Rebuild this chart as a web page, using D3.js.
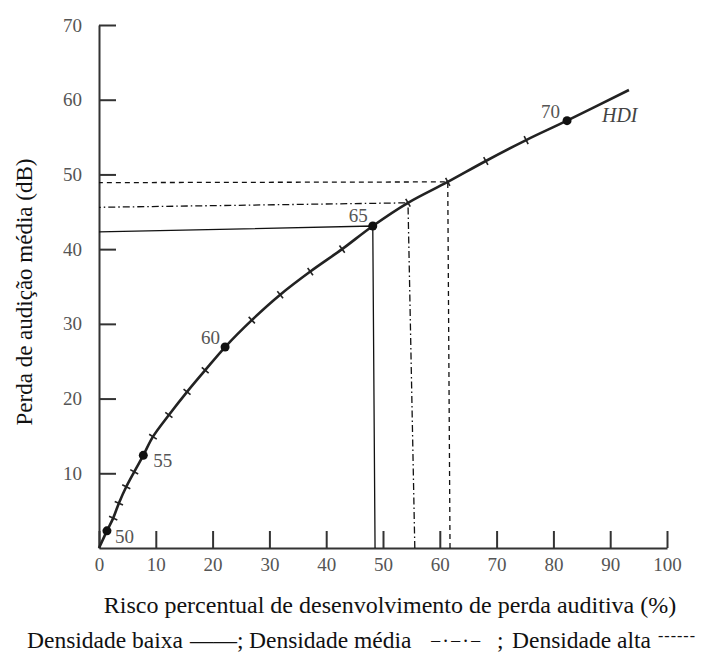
<!DOCTYPE html>
<html>
<head>
<meta charset="utf-8">
<script src="https://cdn.jsdelivr.net/npm/d3@7"></script>
<style>
    body { margin: 0; background: #fff; }
    text { font-family: "Liberation Serif", "Times New Roman", serif; }
</style>
</head>
<body>
<div id="chart"></div>
<script>

// HDI curve: noise level (dB) -> risk (%) and mean hearing loss (dB)
var hdiLevels = [50, 51, 52, 53, 54, 55, 56, 57, 58, 59, 60, 61, 62, 63, 64, 65, 66, 67, 68, 69, 70];
var hdiRisk = [1.4, 2.5, 3.5, 4.8, 6.2, 7.8, 9.5, 12.3, 15.5, 18.7, 22.2, 26.9, 31.9, 37.2, 42.8, 48.2, 54.4, 61.4, 68.1, 75.2, 82.4];
var hdiLoss = [2.3, 4.0, 6.0, 8.2, 10.2, 12.4, 14.9, 17.8, 20.9, 23.8, 26.9, 30.5, 33.9, 37.0, 40.0, 43.1, 46.2, 49.0, 51.8, 54.6, 57.2];
var curveStart = [0, 0];
var curveEnd = [93.3, 61.3];
var labelledLevels = [50, 55, 60, 65, 70];

// reading lines for the three densities
var densityNames = ["baixa", "média", "alta"];
var densityRisk = [48.2, 54.4, 61.4];
var densityLoss = [43.1, 46.2, 49.0];
var densityRiskAtAxis = [48.6, 55.6, 61.8];
var densityLossAtAxis = [42.3, 45.6, 48.9];

// tick labels
var xTicks = [0, 10, 20, 30, 40, 50, 60, 70, 80, 90, 100];
var yTicks = [10, 20, 30, 40, 50, 60, 70];


var width = 706, height = 653;
var serif = "'Liberation Serif', 'Times New Roman', serif";

var svg = d3.select("#chart").append("svg")
    .attr("width", width)
    .attr("height", height)
    .style("font-family", serif);

svg.append("rect").attr("width", width).attr("height", height).attr("fill", "#fff");

var x = d3.scaleLinear().domain([0, 100]).range([99, 667]);
var y = d3.scaleLinear().domain([0, 70]).range([548, 25]);

// axes (ticks point inward)
var xAxis = svg.append("g")
    .attr("transform", "translate(0," + y(0) + ")")
    .call(d3.axisBottom(x).tickValues(xTicks).tickSizeInner(-17).tickSizeOuter(0).tickPadding(10));

var yAxis = svg.append("g")
    .attr("transform", "translate(" + x(0) + ",0)")
    .call(d3.axisLeft(y).tickValues(yTicks).tickSizeInner(-17).tickSizeOuter(0).tickPadding(17));

[xAxis, yAxis].forEach(function(g) {
    g.attr("font-family", null).attr("font-size", null);
    g.select(".domain").attr("stroke", "#333").attr("stroke-width", 2);
    g.selectAll(".tick line").attr("stroke", "#333").attr("stroke-width", 2);
    g.selectAll(".tick text")
        .attr("fill", "#555")
        .style("font-family", serif)
        .style("font-size", "19px");
});

// reading lines
var dashes = ["none", "7,3,1.5,3", "5,4"];
svg.append("g").selectAll("path")
    .data(densityNames)
    .enter().append("path")
    .attr("d", function(d, i) {
        return "M" + x(densityRiskAtAxis[i]) + "," + y(0) +
            "L" + x(densityRisk[i]) + "," + y(densityLoss[i]) +
            "L" + x(0) + "," + y(densityLossAtAxis[i]);
    })
    .attr("fill", "none")
    .attr("stroke", "#111")
    .attr("stroke-width", 1.3)
    .attr("stroke-dasharray", function(d, i) { return dashes[i]; });

// HDI curve
var pts = [curveStart].concat(hdiLevels.map(function(d, i) { return [hdiRisk[i], hdiLoss[i]]; }), [curveEnd]);

var line = d3.line()
    .x(function(d) { return x(d[0]); })
    .y(function(d) { return y(d[1]); })
    .curve(d3.curveCatmullRom.alpha(0.5));

svg.append("path")
    .datum(pts)
    .attr("d", line)
    .attr("fill", "none")
    .attr("stroke", "#222")
    .attr("stroke-width", 2.6);

// small cross marks at every level
var marks = svg.append("g");
hdiLevels.forEach(function(lev, i) {
    if (labelledLevels.indexOf(lev) >= 0) return;
    var p0 = pts[i], p2 = pts[i + 2];
    var dx = x(p2[0]) - x(p0[0]), dy = y(p2[1]) - y(p0[1]);
    var len = Math.sqrt(dx * dx + dy * dy);
    var nx = -dy / len * 4.5, ny = dx / len * 4.5;
    var cx = x(hdiRisk[i]), cy = y(hdiLoss[i]);
    marks.append("line")
        .attr("x1", cx - nx).attr("y1", cy - ny)
        .attr("x2", cx + nx).attr("y2", cy + ny)
        .attr("stroke", "#222")
        .attr("stroke-width", 1.6);
});

// labelled levels
var labelOffsets = {50: [8, 6, "start"], 55: [10, 5, "start"], 60: [-5, -10, "end"], 65: [-5, -11, "end"], 70: [-7, -9, "end"]};
labelledLevels.forEach(function(lev) {
    var i = hdiLevels.indexOf(lev);
    var cx = x(hdiRisk[i]), cy = y(hdiLoss[i]);
    svg.append("circle")
        .attr("cx", cx).attr("cy", cy).attr("r", 4.5)
        .attr("fill", "#111");
    var o = labelOffsets[lev];
    svg.append("text")
        .attr("x", cx + o[0]).attr("y", cy + o[1])
        .attr("dy", "0.35em")
        .attr("text-anchor", o[2])
        .attr("fill", "#555")
        .style("font-family", serif)
        .style("font-size", "19px")
        .text(lev);
});

svg.append("text")
    .attr("x", x(curveEnd[0]) - 27)
    .attr("y", y(curveEnd[1]) + 25)
    .attr("dy", "0.35em")
    .attr("fill", "#444")
    .style("font-family", serif)
    .style("font-size", "20px")
    .style("font-style", "italic")
    .text("HDI");

// axis titles
svg.append("text")
    .attr("transform", "translate(32,292) rotate(-90)")
    .attr("text-anchor", "middle")
    .attr("fill", "#111")
    .style("font-family", serif)
    .style("font-size", "23px")
    .text("Perda de audição média (dB)");

svg.append("text")
    .attr("x", 390)
    .attr("y", 613)
    .attr("text-anchor", "middle")
    .attr("fill", "#111")
    .style("font-family", serif)
    .style("font-size", "24px")
    .text("Risco percentual de desenvolvimento de perda auditiva (%)");

// legend line
var legend = svg.append("text")
    .attr("y", 648)
    .attr("fill", "#111")
    .style("font-family", serif)
    .style("font-size", "23.5px");
legend.append("tspan").attr("x", 27).text("Densidade " + densityNames[0]);
legend.append("tspan").attr("x", 190).text("——;");
legend.append("tspan").attr("x", 249).text("Densidade " + densityNames[1]);
legend.append("tspan").attr("x", 430).style("font-size", "20px").style("letter-spacing", "1px").text("−·−·−");
legend.append("tspan").attr("x", 497).text(";");
legend.append("tspan").attr("x", 512).text("Densidade " + densityNames[2]);
legend.append("tspan").attr("x", 658).attr("dy", -7).style("font-size", "16px").style("letter-spacing", "1px").text("------");

</script>
</body>
</html>
